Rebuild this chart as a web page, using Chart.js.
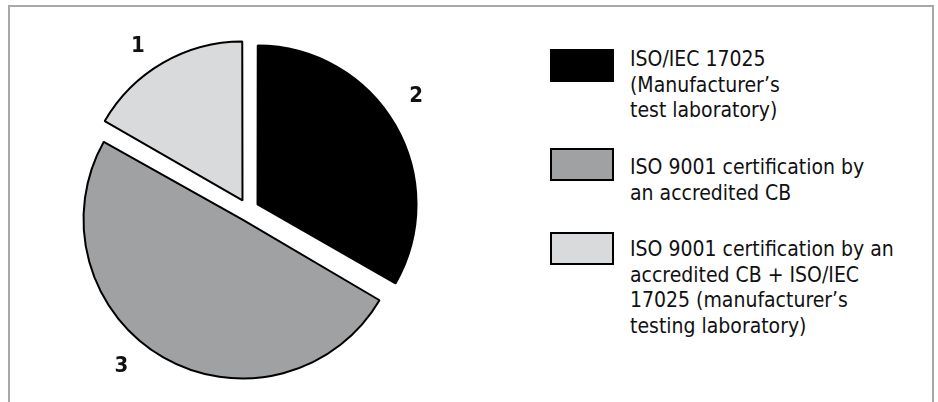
<!DOCTYPE html>
<html>
<head>
<meta charset="utf-8">
<script src="https://cdn.jsdelivr.net/npm/chart.js@4.4.1/dist/chart.umd.min.js"></script>
<style>
    html, body { margin: 0; padding: 0; background: #fff; }
    body { width: 938px; height: 402px; position: relative; overflow: hidden;
           font-family: "Liberation Sans Narrow", "DejaVu Sans Condensed", "Liberation Sans", sans-serif; }
    .frame { position: absolute; left: 8px; top: 5px; width: 922px; height: 420px;
             border: 2px solid #a8a8a8; border-bottom: none; }
    #pie { position: absolute; left: 38px; top: 0; }
    .legend-box { position: absolute; left: 550px; width: 60px; height: 29px; border: 2px solid #000; }
    .legend-text { position: absolute; left: 630px; font-size: 21px; line-height: 25.7px; color: #111; }
</style>
</head>
<body>
<div class="frame"></div>
<canvas id="pie" width="420" height="420"></canvas>
<div id="legend"></div>
<script>
// Shares (slices start at 12 o'clock, clockwise)
const categories = [
    ['ISO/IEC 17025', '(Manufacturer\u2019s', 'test laboratory)'],
    ['ISO 9001 certification by', 'an accredited CB'],
    ['ISO 9001 certification by an', 'accredited CB + ISO/IEC', '17025 (manufacturer\u2019s', 'testing laboratory)']
];
const shares = [33.3, 50, 16.7];
const sliceNumbers = ['2', '3', '1'];
const sliceColors = ['#000000', '#a0a1a3', '#d9dadc'];

// legend layout (box top, text top)
const legendPos = [[49, 47], [148, 155], [232, 237]];

// build html legend
const legend = document.getElementById('legend');
categories.forEach(function(lines, i) {
    const box = document.createElement('div');
    box.className = 'legend-box';
    box.style.top = legendPos[i][0] + 'px';
    box.style.background = sliceColors[i];
    legend.appendChild(box);
    const txt = document.createElement('div');
    txt.className = 'legend-text';
    txt.style.top = legendPos[i][1] + 'px';
    txt.innerHTML = lines.join('<br>');
    legend.appendChild(txt);
});

// keep exploded slices at the same radius (Chart.js grows wide slices by offset)
const explodeFix = {
    id: 'explodeFix',
    afterUpdate(chart) {
        chart.getDatasetMeta(0).data.forEach(function(arc) {
            const off = (arc.options.offset || 0) / 4;
            const fix = 1 - Math.sin(Math.min(Math.PI, arc.circumference));
            arc.outerRadius -= off * fix;
        });
    }
};

// slice numbers outside the pie
const sliceLabels = {
    id: 'sliceLabels',
    afterDatasetsDraw(chart, args, opts) {
        const ctx = chart.ctx;
        const meta = chart.getDatasetMeta(0);
        const r = meta.controller.outerRadius;
        ctx.save();
        ctx.font = 'bold 22px "Liberation Sans Narrow", "DejaVu Sans Condensed", sans-serif';
        ctx.fillStyle = '#111';
        ctx.textAlign = 'center';
        ctx.textBaseline = 'middle';
        meta.data.forEach(function(arc, i) {
            const mid = (arc.startAngle + arc.endAngle) / 2;
            const d = r + opts.distance;
            const x = arc.x + Math.cos(mid) * d + opts.nudge[i][0];
            const y = arc.y + Math.sin(mid) * d + opts.nudge[i][1];
            ctx.fillText(sliceNumbers[i], x, y);
        });
        ctx.restore();
    }
};

new Chart(document.getElementById('pie'), {
    type: 'pie',
    data: {
        labels: categories,
        datasets: [{
            data: shares,
            backgroundColor: sliceColors,
            borderColor: '#000',
            borderWidth: 2,
            offset: 44
        }]
    },
    options: {
        responsive: false,
        animation: false,
        layout: { padding: 28 },
        plugins: {
            legend: { display: false },
            tooltip: { enabled: false },
            sliceLabels: {
                distance: 41,
                nudge: [[-5, -14], [-27, -17], [-10, 9]]
            }
        }
    },
    plugins: [explodeFix, sliceLabels]
});
</script>
</body>
</html>
